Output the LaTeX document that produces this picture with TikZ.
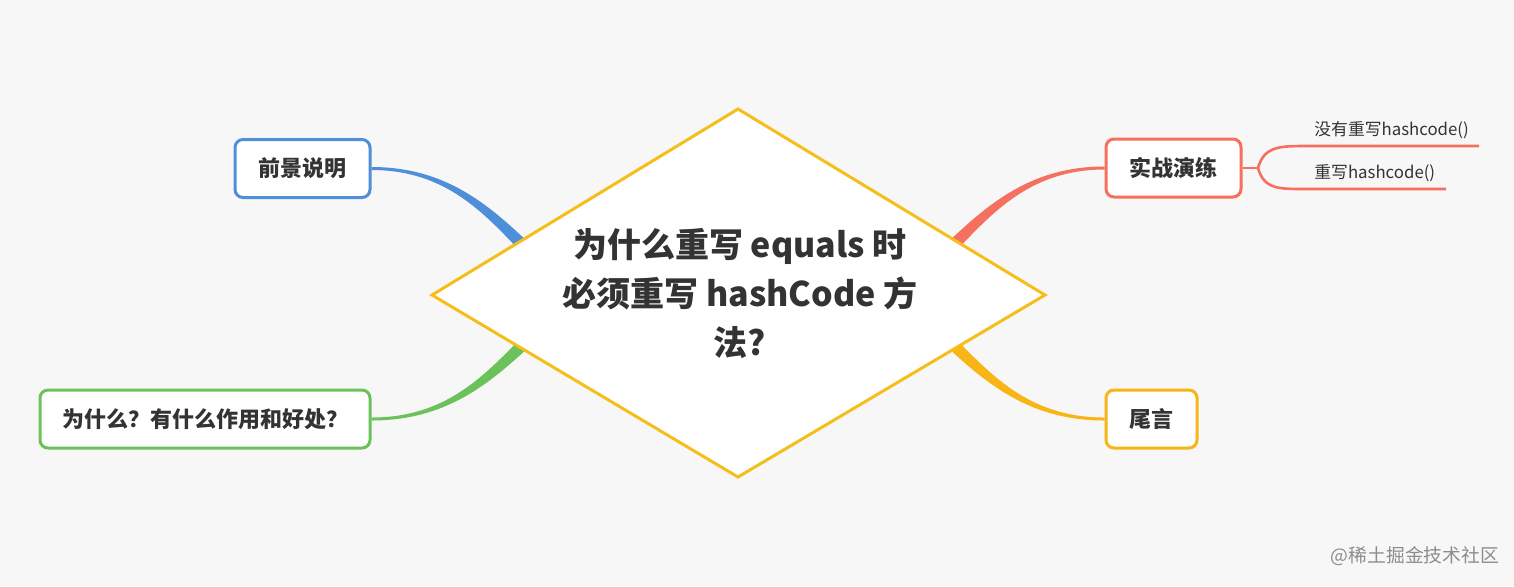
\documentclass[tikz,border=0pt]{standalone}
\usepackage{fontspec}
\setmainfont{Noto Sans CJK SC}
\usetikzlibrary{calc}
\definecolor{bgc}{HTML}{F7F7F7}
\definecolor{txt}{HTML}{333333}
\definecolor{cyel}{HTML}{F5BE1B}
\definecolor{cblue}{HTML}{4F8ED8}
\definecolor{cgreen}{HTML}{6CC25A}
\definecolor{cred}{HTML}{F5705F}
\definecolor{corg}{HTML}{F8B616}
\definecolor{wm}{HTML}{8C8C8C}
\tikzset{
  topic/.style={draw, line width=1.5pt, rounded corners=4pt, fill=white,
    text=txt, font=\fontsize{11pt}{12pt}\selectfont\bfseries,
    minimum height=29pt, inner sep=0pt},
  sub/.style={text=txt, font=\fontsize{8.4pt}{10pt}\selectfont, inner sep=0pt, anchor=west},
  subline/.style={draw=cred, line width=1.3pt},
}
\begin{document}
\begin{tikzpicture}[x=0.5pt,y=-0.5pt]
\fill[bgc] (0,0) rectangle (1514,586);
\useasboundingbox (0,0) rectangle (1514,586);

% topic boxes
\node[topic, draw=cblue, minimum width=67.5pt] (b1) at (302.5,168.5) {前景说明};
\node[topic, draw=cgreen, minimum width=165pt] (g) at (205,419) {为什么？有什么作用和好处？};
\node[topic, draw=cred, minimum width=67.5pt] (r) at (1173.5,168) {实战演练};
\node[topic, draw=corg, minimum width=45.5pt] (o) at (1151.5,419) {尾言};

% tapered connectors
\fill[cblue] ($(b1.east)+(0,-1.5)$) .. controls (445,167) and (488,204) .. (530,244)
  -- (522,253) .. controls (483,212) and (445,170) .. ($(b1.east)+(0,1.5)$) -- cycle;
\fill[cgreen] ($(g.east)+(0,1.5)$) .. controls (445,420.5) and (488,385) .. (530,346)
  -- (522,337) .. controls (483,377) and (445,417.5) .. ($(g.east)+(0,-1.5)$) -- cycle;
\fill[cred] ($(r.west)+(0,-1.5)$) .. controls (1031,166.5) and (988,204) .. (946,244)
  -- (954,253) .. controls (993,212) and (1031,169.5) .. ($(r.west)+(0,1.5)$) -- cycle;
\fill[corg] ($(o.west)+(0,1.5)$) .. controls (1031,420.5) and (988,385) .. (946,346)
  -- (954,337) .. controls (993,377) and (1031,417.5) .. ($(o.west)+(0,-1.5)$) -- cycle;

% central diamond
\coordinate (dT) at (738,109);
\coordinate (dR) at (1045,295);
\coordinate (dB) at (738,477);
\coordinate (dL) at (432,295);
\draw[cyel, line width=1.5pt, fill=white, line join=miter] (dT) -- (dR) -- (dB) -- (dL) -- cycle;
\node[text=txt, align=center, font=\fontsize{17pt}{24.5pt}\selectfont\bfseries] (title) at (740,294)
  {为什么重写 equals 时\\必须重写 hashCode 方\\法?};

% sub-branches
\coordinate (fork) at (1258,168);
\coordinate (e1) at (1479,146);
\coordinate (e2) at (1446,189);
\draw[subline] (r.east) -- (fork);
\draw[subline] (fork) .. controls (1264,147) and (1278,146) .. (1305,146) -- (e1);
\draw[subline] (fork) .. controls (1264,189) and (1278,189) .. (1305,189) -- (e2);
\node[sub] (s1) at (1314,130) {没有重写hashcode()};
\node[sub] (s2) at (1314,173) {重写hashcode()};

% watermark
\node[text=wm, font=\fontsize{9.4pt}{11pt}\selectfont, inner sep=0pt] (wmark) at (1415,556) {@稀土掘金技术社区};
\end{tikzpicture}
\end{document}
